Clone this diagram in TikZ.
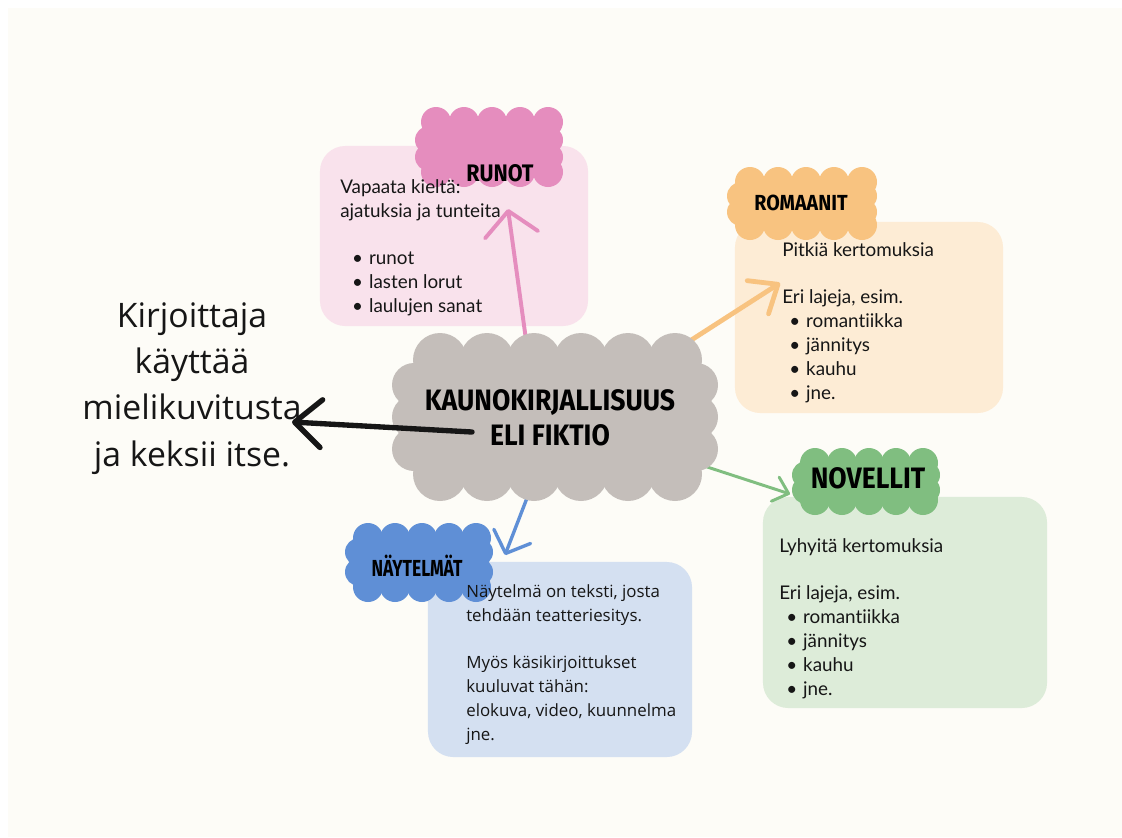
\documentclass[tikz,border=0pt]{standalone}
\usepackage{fontspec}
\setmainfont{Lato}[Ligatures=NoCommon]
\newfontfamily\opensans{Open Sans}
\newfontfamily\headfont{Fira Sans}[FakeStretch=0.9]
\newfontfamily\headnarrow{Fira Sans}[FakeStretch=0.75]
\usetikzlibrary{arrows.meta}
\definecolor{pagecream}{RGB}{253,252,247}
\definecolor{runotpink}{RGB}{229,141,190}
\definecolor{runotbg}{RGB}{249,226,236}
\definecolor{romorange}{RGB}{248,195,128}
\definecolor{rombg}{RGB}{253,236,213}
\definecolor{novgreen}{RGB}{128,190,128}
\definecolor{novbg}{RGB}{221,236,217}
\definecolor{naytblue}{RGB}{95,143,214}
\definecolor{naytbg}{RGB}{212,224,241}
\definecolor{coregray}{RGB}{196,190,186}
\definecolor{inkblack}{RGB}{22,22,22}
% scalloped cloud: colour, x0, y0, x1, y1, top/bottom xs, radius, side ys, radius
\newcommand{\puffcloud}[9]{%
  \fill[#1] (#2,#3) rectangle (#4,#5);
  \foreach \px in {#6} {\fill[#1] (\px,#3) circle[radius=#7]; \fill[#1] (\px,#5) circle[radius=#7];}
  \foreach \py in {#8} {\fill[#1] (#2,\py) circle[radius=#9]; \fill[#1] (#4,\py) circle[radius=#9];}
}
\newcommand{\itm}[2]{\hspace*{#1}\makebox[12pt][l]{\textbullet}#2}

\begin{document}
\begin{tikzpicture}[x=0.025cm,y=-0.025cm,
    box/.style={rounded corners=18pt,inner sep=0pt},
    body/.style={anchor=north west,inner sep=0pt,align=left,text=inkblack,
                 font=\fontsize{13.4}{17}\selectfont},
    head/.style={anchor=base,inner sep=0pt,text=black},
    brush/.style={line cap=round,line join=round}]
    \useasboundingbox (0,0) rectangle (1122,837);
    \fill[white] (0,0) rectangle (1122,837);
    \fill[pagecream] (8,8) rectangle (1122,837);

    % boxes
    \node[box,fill=runotbg,minimum width=6.7cm,minimum height=4.5cm] (runotbox) at (454,236) {};
    \node[box,fill=rombg,minimum width=6.7cm,minimum height=4.775cm] (rombox) at (869,317.5) {};
    \node[box,fill=novbg,minimum width=7.1cm,minimum height=5.275cm] (novbox) at (905,602.5) {};
    \node[box,fill=naytbg,minimum width=6.6cm,minimum height=4.875cm] (naytbox) at (560,659.5) {};

    % small clouds
    \puffcloud{runotpink}{429}{122}{549}{172}{436,464,492,520,548}{15}{140,157}{14}
    \puffcloud{romorange}{741}{182}{863}{225}{750,778,806,834,862}{15}{196,212}{14}
    \puffcloud{novgreen}{806}{463}{926}{500}{815,842,869,896,923}{15}{475,490}{14}
    \puffcloud{naytblue}{359}{538}{479}{587}{368,395,422,449,476}{15}{552,572}{14}

    % coloured arrows
    \coordinate (core-n) at (527,347);
    \coordinate (core-ne) at (682,346);
    \coordinate (core-se) at (695,463);
    \coordinate (core-s) at (527,498);
    \coordinate (runot-tip) at (508,209);
    \coordinate (rom-tip) at (780,283);
    \coordinate (nov-tip) at (790,494);
    \coordinate (nayt-tip) at (505,555);
    \draw[brush,runotpink,line width=2.8pt,-{Straight Barb[round,length=17pt,width=38pt]}] (core-n) -- (runot-tip);
    \draw[brush,romorange,line width=3.4pt,-{Straight Barb[round,length=17pt,width=28pt]}] (core-ne) -- (rom-tip);
    \draw[brush,novgreen,line width=2.1pt,-{Straight Barb[round,length=10pt,width=18pt]}] (core-se) -- (nov-tip);
    \draw[brush,naytblue,line width=2.4pt,-{Straight Barb[round,length=13pt,width=28pt]}] (core-s) -- (nayt-tip);

    % central cloud
    \puffcloud{coregray}{414}{360}{696}{474}{440,487,534,581,628,675}{27}{385,417,449}{22}

    % black arrow
    \coordinate (core-w) at (472,432);
    \coordinate (writer-tip) at (292,422);
    \draw[brush,inkblack,line width=3.8pt,-{Straight Barb[round,length=19pt,width=34pt]}] (core-w) -- (writer-tip);

    % texts
    \node[align=center,inner sep=0pt,text=black,
          font=\headfont\bfseries\fontsize{21}{24.8}\selectfont] (core) at (550,417.5)
      {KAUNOKIRJALLISUUS\\ELI FIKTIO};
    \node[head,font=\headfont\bfseries\fontsize{17}{20}\selectfont] (runot) at (500,181) {RUNOT};
    \node[head,font=\headfont\bfseries\fontsize{15.5}{17}\selectfont] (romaanit) at (801,210) {ROMAANIT};
    \node[head,font=\headfont\bfseries\fontsize{21}{24}\selectfont] (novellit) at (868,488) {NOVELLIT};
    \node[head,font=\headnarrow\bfseries\fontsize{16.5}{20}\selectfont] (naytelmat) at (417,576) {NÄYTELMÄT};

    \node[body] (runottxt) at (340,179) {Vapaata kieltä:\\ajatuksia ja tunteita\\[17pt]
      \itm{8.5pt}{runot}\\\itm{8.5pt}{lasten lorut}\\\itm{8.5pt}{laulujen sanat}};
    \node[body] (romtxt) at (782,242) {Pitkiä kertomuksia\\[17pt]Eri lajeja, esim.\\
      \itm{5pt}{romantiikka}\\\itm{5pt}{jännitys}\\\itm{5pt}{kauhu}\\\itm{5pt}{jne.}};
    \node[body] (novtxt) at (779,538) {Lyhyitä kertomuksia\\[17pt]Eri lajeja, esim.\\
      \itm{5pt}{romantiikka}\\\itm{5pt}{jännitys}\\\itm{5pt}{kauhu}\\\itm{5pt}{jne.}};
    \node[body,font=\opensans\fontsize{12}{17}\selectfont] (nayttxt) at (466,584)
      {Näytelmä on teksti, josta\\tehdään teatteriesitys.\\[17pt]Myös käsikirjoittukset\\
       kuuluvat tähän:\\elokuva, video, kuunnelma\\jne.};
    \node[anchor=north,inner sep=0pt,align=center,text=inkblack,
          font=\opensans\fontsize{24}{33}\selectfont] (writer) at (192,302)
      {Kirjoittaja\\käyttää\\mielikuvitusta\\ja keksii itse.};
\end{tikzpicture}
\end{document}
